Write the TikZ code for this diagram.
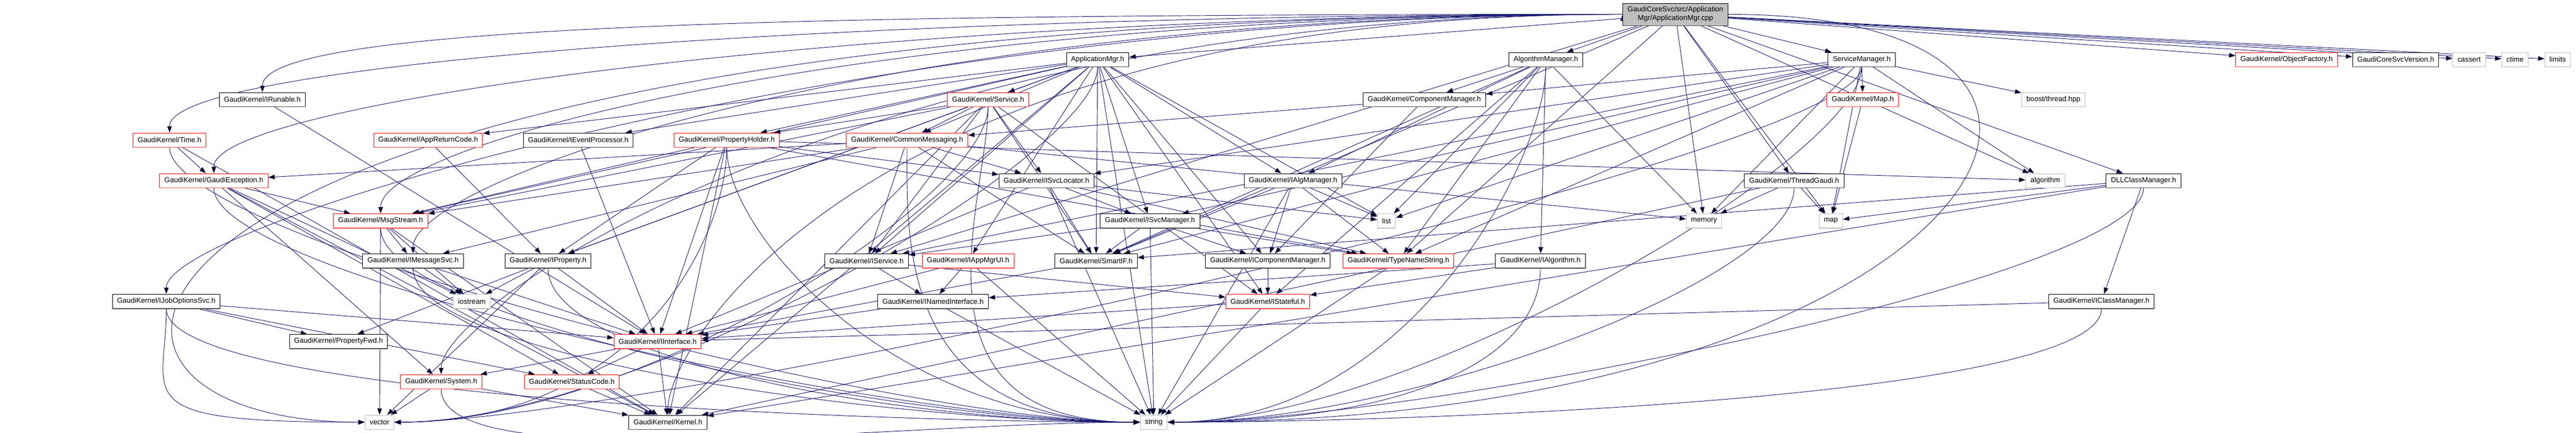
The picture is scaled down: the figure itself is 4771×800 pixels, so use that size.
\documentclass[tikz,border=0pt]{standalone}
\usepackage{fontspec}
\setmainfont{Liberation Sans}
\usetikzlibrary{arrows.meta, backgrounds}

\definecolor{depblue}{HTML}{191970}
\definecolor{hiddenred}{HTML}{FF0000}
\definecolor{sysgray}{HTML}{BFBFBF}
\definecolor{shadegray}{HTML}{505050}

\tikzset{
	bottomshade/.style = {append after command = {(\tikzlastnode.south west) edge [draw = #1, line width = 1.4pt, -] (\tikzlastnode.south east)}},
	header/.style = {draw = black, fill = white, line width = 0.75pt, minimum height = 19.5pt, inner xsep = 6.5pt, inner ysep = 0pt, font = \fontsize{10}{12}\selectfont, bottomshade = shadegray},
	truncated/.style = {header, draw = hiddenred, bottomshade = hiddenred!70},
	syshdr/.style = {header, draw = sysgray, bottomshade = sysgray},
	srcfile/.style = {header, fill = sysgray, align = center, minimum height = 30.75pt},
	dep/.style = {draw = depblue, line width = 0.7pt, -{Triangle[length = 9pt, width = 6.5pt]}},
	% routed connectors
	fromtop/.style = {to path = {(\tikztostart) .. controls +(-1400,0) and +(0,130) .. (\tikztotarget) \tikztonodes}},
	fromleft/.style = {to path = {(\tikztostart) .. controls +(-2900,0) and +(-700,0) .. (\tikztotarget.west) \tikztonodes}},
	toleft/.style = {to path = {(\tikztostart) .. controls +(0,-180) and +(-450,0) .. (\tikztotarget.west) \tikztonodes}},
	toright/.style = {to path = {(\tikztostart) .. controls +(0,-180) and +(450,0) .. (\tikztotarget.east) \tikztonodes}},
	sweep/.style = {to path = {(\tikztostart.east) .. controls +(900,0) and +(1500,0) .. (\tikztotarget.east) \tikztonodes}},
}

\begin{document}
\begin{tikzpicture}[x = 0.75pt, y = 0.75pt]
		\useasboundingbox (0,0) rectangle (4771,-800);
		
		% the file itself
		\node [srcfile] (root) at (3103,-26.5) {GaudiCoreSvc/src/Application\\Mgr/ApplicationMgr.cpp};
		
		% first level
		\node [header] (appmgr) at (2033,-110) {ApplicationMgr.h};
		\node [header] (algmanager) at (2863,-110) {AlgorithmManager.h};
		\node [header] (svcmanager) at (3448,-110) {ServiceManager.h};
		\node [truncated] (objfactory) at (4235,-110) {GaudiKernel/ObjectFactory.h};
		\node [header] (coreversion) at (4437,-110) {GaudiCoreSvcVersion.h};
		\node [syshdr] (cassert) at (4573,-110) {cassert};
		\node [syshdr] (ctime) at (4658,-110) {ctime};
		\node [syshdr] (limits) at (4737,-110) {limits};
		
		\node [header] (irunable) at (486,-184) {GaudiKernel/IRunable.h};
		\node [truncated] (service) at (1830,-184) {GaudiKernel/Service.h};
		\node [header] (compmanager) at (2638,-184) {GaudiKernel/ComponentManager.h};
		\node [truncated] (mapheader) at (3450,-184) {GaudiKernel/Map.h};
		\node [syshdr] (boostthread) at (3803,-184) {boost/thread.hpp};
		
		\node [truncated] (time) at (314,-259) {GaudiKernel/Time.h};
		\node [truncated] (appreturn) at (793,-259) {GaudiKernel/AppReturnCode.h};
		\node [header] (ieventproc) at (1071,-259) {GaudiKernel/IEventProcessor.h};
		\node [truncated] (propholder) at (1346,-259) {GaudiKernel/PropertyHolder.h};
		\node [truncated] (commonmsg) at (1680,-259) {GaudiKernel/CommonMessaging.h};
		
		\node [truncated] (gaudiexc) at (396,-334) {GaudiKernel/GaudiException.h};
		\node [header] (isvclocator) at (1938,-334) {GaudiKernel/ISvcLocator.h};
		\node [header] (ialgmanager) at (2395,-334) {GaudiKernel/IAlgManager.h};
		\node [header] (threadgaudi) at (3323,-334) {GaudiKernel/ThreadGaudi.h};
		\node [syshdr] (algorithm) at (3788,-334) {algorithm};
		\node [header] (dllclass) at (3970,-334) {DLLClassManager.h};
		
		\node [truncated] (msgstream) at (705,-408.5) {GaudiKernel/MsgStream.h};
		\node [header] (isvcmanager) at (2130,-408.5) {GaudiKernel/ISvcManager.h};
		\node [syshdr] (list) at (2568,-408.5) {list};
		\node [syshdr] (memory) at (3156,-408.5) {memory};
		\node [syshdr] (stdmap) at (3391,-408.5) {map};
		
		\node [header] (imessagesvc) at (765,-482.5) {GaudiKernel/IMessageSvc.h};
		\node [header] (iproperty) at (1015,-482.5) {GaudiKernel/IProperty.h};
		\node [header] (iservice) at (1605,-482.5) {GaudiKernel/IService.h};
		\node [truncated] (iappmgrui) at (1793,-482.5) {GaudiKernel/IAppMgrUI.h};
		\node [header] (smartif) at (2030,-482.5) {GaudiKernel/SmartIF.h};
		\node [header] (icompmanager) at (2348,-482.5) {GaudiKernel/IComponentManager.h};
		\node [truncated] (typestr) at (2590,-482.5) {GaudiKernel/TypeNameString.h};
		\node [header] (ialgorithm) at (2853,-482.5) {GaudiKernel/IAlgorithm.h};
		
		\node [header] (ijoboptions) at (308,-557.5) {GaudiKernel/IJobOptionsSvc.h};
		\node [syshdr] (iostream) at (874,-557.5) {iostream};
		\node [header] (inamediface) at (1728,-557.5) {GaudiKernel/INamedInterface.h};
		\node [truncated] (istateful) at (2348,-557.5) {GaudiKernel/IStateful.h};
		\node [header] (iclassmanager) at (3892,-557.5) {GaudiKernel/IClassManager.h};
		
		\node [header] (propfwd) at (627,-631.5) {GaudiKernel/PropertyFwd.h};
		\node [truncated] (iinterface) at (1218,-631.5) {GaudiKernel/IInterface.h};
		
		\node [truncated] (system) at (817,-706) {GaudiKernel/System.h};
		\node [truncated] (statuscode) at (1059,-706) {GaudiKernel/StatusCode.h};
		
		\node [syshdr] (vector) at (703,-781) {vector};
		\node [header] (kernel) at (1237,-781) {GaudiKernel/Kernel.h};
		\node [syshdr] (string) at (2137,-781) {string};
		
		\begin{scope}[on background layer]
		% includes of the source file
		\draw [dep] (root) edge (appmgr) edge (algmanager) edge (svcmanager) edge (dllclass) edge (threadgaudi) edge (algorithm) edge (memory) edge (objfactory) edge (coreversion) edge (cassert) edge (ctime) edge (limits) edge (typestr) edge (smartif) edge (iservice) edge (stdmap) edge [sweep] (string);
		\draw [dep] (root.west) edge [fromtop] (irunable.north) edge [fromtop] (time.north) edge [fromtop] (gaudiexc.north) edge [fromtop] (msgstream.north) edge [fromtop] (imessagesvc.north) edge [fromtop] (ijoboptions.north) edge [fromtop] (system.north) edge [fromtop] (kernel.north) edge [fromleft] (vector);
		
		\draw [dep] (appmgr) edge (service) edge (commonmsg) edge (propholder) edge (ieventproc) edge (appreturn) edge (iproperty) edge (isvcmanager) edge (ialgmanager) edge (icompmanager) edge (iservice) edge (iappmgrui) edge (smartif) edge (istateful) edge (list) edge (kernel) edge (string) edge (msgstream) edge [toright] (vector);
		\draw [dep] (algmanager) edge (compmanager) edge (ialgmanager) edge (ialgorithm) edge (smartif) edge (typestr) edge (list) edge (memory) edge (istateful) edge [toright] (string);
		\draw [dep] (svcmanager) edge (compmanager) edge (mapheader) edge (boostthread) edge (algorithm) edge (isvcmanager) edge (isvclocator) edge (iservice) edge (smartif) edge (typestr) edge (list) edge (memory) edge (stdmap) edge [toright] (string) edge [toright] (vector);
		\draw [dep] (compmanager) edge (commonmsg) edge (icompmanager);
		\draw [dep] (service) edge (commonmsg) edge (isvclocator) edge (iservice) edge (propholder) edge (smartif) edge (istateful) edge (iproperty) edge (msgstream) edge (kernel) edge [toleft] (string) edge [toright] (vector);
		\draw [dep] (commonmsg) edge (gaudiexc) edge (msgstream) edge (imessagesvc) edge (isvclocator) edge (iservice) edge (smartif) edge (memory) edge [toleft] (string);
		\draw [dep] (propholder) edge (iproperty) edge (msgstream) edge (isvclocator) edge (typestr) edge (iinterface) edge (kernel) edge (algorithm) edge [toleft] (string) edge [toright] (vector);
		
		\draw [dep] (time) edge (gaudiexc) edge (kernel) edge [toleft] (string);
		\draw [dep] (irunable) edge (iinterface);
		\draw [dep] (appreturn) edge (iproperty);
		\draw [dep] (ieventproc) edge (iinterface);
		\draw [dep] (gaudiexc) edge (msgstream) edge (system) edge (statuscode) edge (kernel) edge (iostream) edge [toleft] (string);
		\draw [dep] (msgstream) edge (imessagesvc) edge (iostream) edge (vector) edge (kernel) edge [toleft] (string);
		\draw [dep] (imessagesvc) edge (iinterface) edge (iostream) edge [toleft] (string);
		\draw [dep] (iproperty) edge (iinterface) edge (propfwd) edge (iostream) edge (vector) edge [toleft] (string);
		\draw [dep] (ijoboptions) edge (iinterface) edge (propfwd) edge (statuscode) edge [toleft] (vector) edge [toleft] (string);
		
		\draw [dep] (isvclocator) edge (isvcmanager) edge (smartif) edge (iinterface) edge (typestr) edge (list) edge (string);
		\draw [dep] (ialgmanager) edge (icompmanager) edge (smartif) edge (typestr) edge (list) edge (string);
		\draw [dep] (isvcmanager) edge (icompmanager) edge (iservice) edge (smartif) edge (typestr) edge (string);
		\draw [dep] (iservice) edge (inamediface) edge (istateful);
		\draw [dep] (iappmgrui) edge (inamediface) edge (iinterface) edge (string);
		\draw [dep] (smartif) edge (iinterface);
		\draw [dep] (icompmanager) edge (istateful);
		\draw [dep] (typestr) edge (string);
		\draw [dep] (ialgorithm) edge (inamediface) edge (istateful) edge [toright] (string);
		\draw [dep] (inamediface) edge (iinterface) edge (string);
		\draw [dep] (istateful) edge (iinterface) edge (string);
		
		\draw [dep] (threadgaudi) edge (stdmap) edge (memory) edge (kernel) edge [toright] (string);
		\draw [dep] (dllclass) edge (iclassmanager) edge (stdmap) edge (kernel) edge (smartif) edge [toright] (string);
		\draw [dep] (mapheader) edge (stdmap);
		\draw [dep] (iclassmanager) edge (iinterface) edge [toright] (string);
		
		\draw [dep] (iinterface) edge (system) edge (statuscode) edge (kernel);
		\draw [dep] (system) edge (vector) edge (kernel) edge [toleft] (string);
		\draw [dep] (statuscode) edge (kernel);
		\end{scope}
	\end{tikzpicture}
\end{document}
